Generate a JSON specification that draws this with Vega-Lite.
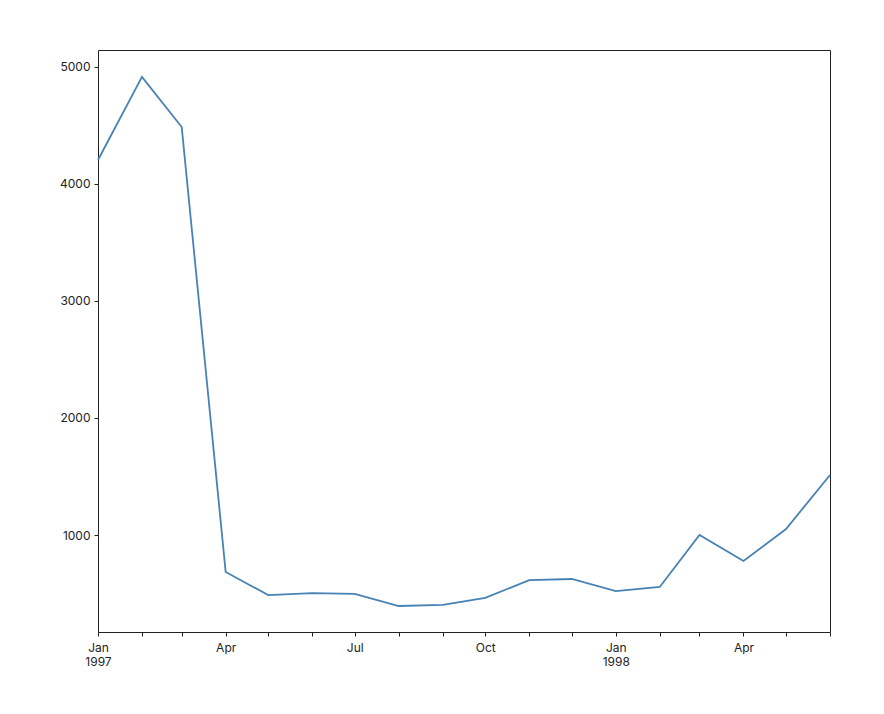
{
  "$schema": "https://vega.github.io/schema/vega-lite/v6.json",
  "width": 732,
  "height": 582,
  "autosize": {"type": "none"},
  "padding": {"left": 98, "top": 50, "right": 54, "bottom": 82},
  "background": "#ffffff",
  "config": {
    "font": "Inter",
    "view": {"stroke": "#222222", "strokeWidth": 1},
    "axis": {
      "grid": false,
      "domain": false,
      "tickColor": "#222222",
      "tickSize": 4,
      "labelFont": "Inter",
      "labelFontSize": 12,
      "labelColor": "#222222",
      "title": null
    }
  },
  "data": {
    "values": [
      {"date": "1997-01-01", "value": 4205},
      {"date": "1997-02-01", "value": 4915},
      {"date": "1997-03-01", "value": 4487},
      {"date": "1997-04-01", "value": 684},
      {"date": "1997-05-01", "value": 487},
      {"date": "1997-06-01", "value": 504},
      {"date": "1997-07-01", "value": 496},
      {"date": "1997-08-01", "value": 393},
      {"date": "1997-09-01", "value": 402},
      {"date": "1997-10-01", "value": 462},
      {"date": "1997-11-01", "value": 615},
      {"date": "1997-12-01", "value": 624},
      {"date": "1998-01-01", "value": 521},
      {"date": "1998-02-01", "value": 556},
      {"date": "1998-03-01", "value": 1000},
      {"date": "1998-04-01", "value": 778},
      {"date": "1998-05-01", "value": 1051},
      {"date": "1998-06-01", "value": 1513}
    ]
  },
  "mark": {"type": "line", "color": "#4682b4", "strokeWidth": 1.8},
  "encoding": {
    "x": {
      "field": "date",
      "type": "temporal",
      "scale": {
        "type": "utc",
        "domain": [
          {"year": 1997, "month": 1, "date": 1, "utc": true},
          {"year": 1998, "month": 6, "date": 1, "utc": true}
        ],
        "nice": false
      },
      "axis": {
        "tickCount": {"interval": "month", "step": 1},
        "labelFlush": false,
        "labelOverlap": false,
        "labelPadding": 6,
        "labelExpr": "utcmonth(datum.value) == 0 ? [utcFormat(datum.value, '%b'), utcFormat(datum.value, '%Y')] : (utcmonth(datum.value) % 3 == 0 ? utcFormat(datum.value, '%b') : '')"
      }
    },
    "y": {
      "field": "value",
      "type": "quantitative",
      "scale": {"domain": [171, 5145], "nice": false, "zero": false},
      "axis": {"values": [1000, 2000, 3000, 4000, 5000], "format": "d", "labelPadding": 4}
    }
  }
}
